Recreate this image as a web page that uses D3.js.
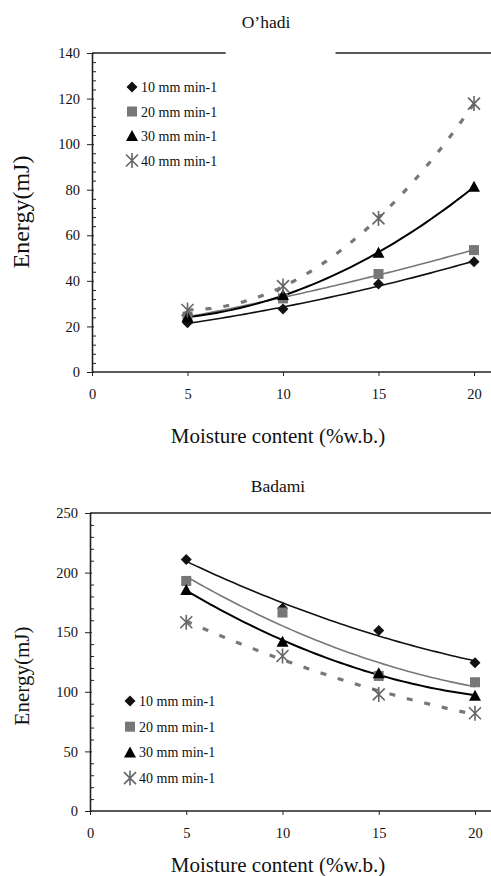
<!DOCTYPE html>
<html>
<head>
<meta charset="utf-8">
<script src="https://cdn.jsdelivr.net/npm/d3@7"></script>
<style>
  body { margin: 0; background: #fff; }
  svg { display: block; }
  svg text { font-family: "Liberation Serif", "Times New Roman", "DejaVu Serif", serif; }
</style>
</head>
<body>
<svg id="chart"></svg>
<script>
const width = 491;
const height = 876;
const serif = "'Liberation Serif', 'Times New Roman', 'DejaVu Serif', serif";

const moisture = [5, 10, 15, 20];
const series = ["10 mm min-1", "20 mm min-1", "30 mm min-1", "40 mm min-1"];

// O'hadi
const ohadi10 = [21.6, 27.6, 38.6, 48.4];
const ohadi20 = [24.3, 32.3, 43.0, 53.5];
const ohadi30 = [24.0, 33.8, 52.3, 81.3];
const ohadi40 = [27.2, 37.7, 67.4, 117.8];

// Badami
const badami10 = [211, 170, 151.5, 124.4];
const badami20 = [193, 166.5, 113.3, 108];
const badami30 = [185.4, 142, 115.5, 96.7];
const badami40 = [158.3, 130, 97.8, 82];

const xTicks = [0, 5, 10, 15, 20];
const ohadiTicks = [0, 20, 40, 60, 80, 100, 120, 140];
const badamiTicks = [0, 50, 100, 150, 200, 250];

const svg = d3.select("#chart")
    .attr("width", width)
    .attr("height", height)
    .attr("font-family", serif);

const styles = [
    { shape: "diamond", fill: "#111", line: "#111", lw: 1.6, dash: null },
    { shape: "square", fill: "#777", line: "#777", lw: 1.6, dash: null },
    { shape: "triangle", fill: "#000", line: "#000", lw: 2, dash: null },
    { shape: "star", fill: "#666", line: "#777", lw: 3.2, dash: "6,12" }
];

// quadratic least squares trend, like the spreadsheet trendline
function quadFit(xs, ys) {
    let s = [0, 0, 0, 0, 0], t = [0, 0, 0];
    xs.forEach((x, i) => {
        for (let k = 0; k < 5; k++) s[k] += Math.pow(x, k);
        for (let k = 0; k < 3; k++) t[k] += Math.pow(x, k) * ys[i];
    });
    const m = [[s[0], s[1], s[2], t[0]], [s[1], s[2], s[3], t[1]], [s[2], s[3], s[4], t[2]]];
    for (let c = 0; c < 3; c++) {
        for (let r = c + 1; r < 3; r++) {
            const f = m[r][c] / m[c][c];
            for (let k = c; k < 4; k++) m[r][k] -= f * m[c][k];
        }
    }
    const b = [0, 0, 0];
    for (let r = 2; r >= 0; r--) {
        let v = m[r][3];
        for (let k = r + 1; k < 3; k++) v -= m[r][k] * b[k];
        b[r] = v / m[r][r];
    }
    return x => b[0] + b[1] * x + b[2] * x * x;
}

function marker(g, shape, st) {
    if (shape === "diamond") {
        g.append("path").attr("d", "M0,-5.5L5.5,0L0,5.5L-5.5,0Z").attr("fill", st.fill);
    } else if (shape === "square") {
        g.append("rect").attr("x", -5).attr("y", -5).attr("width", 10).attr("height", 10).attr("fill", st.fill);
    } else if (shape === "triangle") {
        g.append("path").attr("d", "M0,-6L6,5L-6,5Z").attr("fill", st.fill);
    } else {
        g.append("path")
            .attr("d", "M-6,-6L6,6M-6,6L6,-6M0,-7.5L0,7.5")
            .attr("stroke", st.fill)
            .attr("stroke-width", 1.6)
            .attr("fill", "none");
    }
}

function drawChart(o) {
    const g = svg.append("g");
    const x = d3.scaleLinear().domain([0, 20]).range([o.left, o.right]);
    const y = d3.scaleLinear().domain([0, o.ymax]).range([o.bottom, o.top]);

    // title
    g.append("text")
        .attr("x", o.titleX)
        .attr("y", o.titleY)
        .attr("text-anchor", "middle")
        .attr("font-family", serif)
        .attr("font-size", 17.5)
        .attr("fill", "#111")
        .text(o.title);

    // top frame line
    o.frame.forEach(seg => {
        g.append("line")
            .attr("x1", x(seg[0]))
            .attr("x2", seg[1] === null ? width : x(seg[1]))
            .attr("y1", y(o.ymax))
            .attr("y2", y(o.ymax))
            .attr("stroke", "#222")
            .attr("stroke-width", 1.3);
    });

    // y axis
    const ya = g.append("g")
        .attr("transform", `translate(${o.left},0)`)
        .call(d3.axisLeft(y).tickValues(o.yTicks).tickSize(5).tickSizeOuter(0))
        .attr("font-family", serif);
    ya.select(".domain").attr("stroke", "#222").attr("stroke-width", 1.6);
    ya.selectAll(".tick line").attr("stroke", "#222").attr("x2", -5).attr("x1", 2);
    ya.selectAll("text")
        .attr("font-size", 14.5)
        .attr("font-family", serif)
        .attr("fill", "#111")
        .attr("dx", -4);

    const minor = d3.range(0, o.ymax + 0.001, o.minor).filter(v => !o.yTicks.includes(v));
    const ym = g.append("g")
        .attr("transform", `translate(${o.left},0)`)
        .call(d3.axisRight(y).tickValues(minor).tickSize(4).tickFormat(""));
    ym.select(".domain").remove();
    ym.selectAll(".tick line").attr("stroke", "#222");

    // x axis
    const xa = g.append("g")
        .attr("transform", `translate(0,${o.bottom})`)
        .call(d3.axisBottom(x).tickValues(xTicks).tickSize(4).tickSizeOuter(0))
        .attr("font-family", serif);
    xa.select(".domain").remove();
    xa.selectAll(".tick line").attr("stroke", "#222");
    xa.selectAll("text")
        .attr("font-size", 14.5)
        .attr("font-family", serif)
        .attr("fill", "#111")
        .attr("dy", "1.4em");
    g.append("line")
        .attr("x1", o.left)
        .attr("x2", width)
        .attr("y1", o.bottom)
        .attr("y2", o.bottom)
        .attr("stroke", "#222")
        .attr("stroke-width", 1.6);

    // axis titles
    g.append("text")
        .attr("transform", `translate(${o.ylabX},${o.ylabY}) rotate(-90)`)
        .attr("text-anchor", "middle")
        .attr("font-family", serif)
        .attr("font-size", o.ylabSize)
        .attr("fill", "#111")
        .text("Energy(mJ)");
    g.append("text")
        .attr("x", o.xlabX)
        .attr("y", o.xlabY)
        .attr("text-anchor", "middle")
        .attr("font-family", serif)
        .attr("font-size", 21)
        .attr("fill", "#111")
        .text("Moisture content (%w.b.)");

    // trend lines
    const xs = d3.range(5, 20.001, 0.25);
    const line = d3.line().x(d => x(d[0])).y(d => y(d[1]));
    o.data.forEach((vals, i) => {
        const f = quadFit(moisture, vals);
        const st = styles[i];
        g.append("path")
            .attr("d", line(xs.map(v => [v, f(v)])))
            .attr("fill", "none")
            .attr("stroke", st.line)
            .attr("stroke-width", st.lw)
            .attr("stroke-dasharray", st.dash);
    });

    // markers
    o.data.forEach((vals, i) => {
        vals.forEach((v, j) => {
            const m = g.append("g").attr("transform", `translate(${x(moisture[j])},${y(v)})`);
            marker(m, styles[i].shape, styles[i]);
        });
    });

    // legend
    series.forEach((s, i) => {
        const ly = o.legY + i * o.legStep;
        const m = g.append("g").attr("transform", `translate(${o.legX},${ly})`);
        marker(m, styles[i].shape, styles[i]);
        g.append("text")
            .attr("x", o.legX + 9)
            .attr("y", ly + 5)
            .attr("font-family", serif)
            .attr("font-size", 14)
            .attr("fill", "#111")
            .text(s);
    });
}

drawChart({
    title: "O\u2019hadi", titleX: 266, titleY: 28,
    left: 92, right: 474, top: 53, bottom: 372, ymax: 140,
    yTicks: ohadiTicks, minor: 4,
    frame: [[0, 7], [12.75, null]],
    data: [ohadi10, ohadi20, ohadi30, ohadi40],
    legX: 132, legY: 87, legStep: 24.5,
    ylabX: 28.5, ylabY: 212, ylabSize: 24, xlabX: 278, xlabY: 443
});

drawChart({
    title: "Badami", titleX: 278, titleY: 492,
    left: 90, right: 475, top: 513, bottom: 811, ymax: 250,
    yTicks: badamiTicks, minor: 10,
    frame: [[0, null]],
    data: [badami10, badami20, badami30, badami40],
    legX: 130, legY: 701, legStep: 25.7,
    ylabX: 28.5, ylabY: 676, ylabSize: 21, xlabX: 278, xlabY: 872
});
</script>
</body>
</html>
